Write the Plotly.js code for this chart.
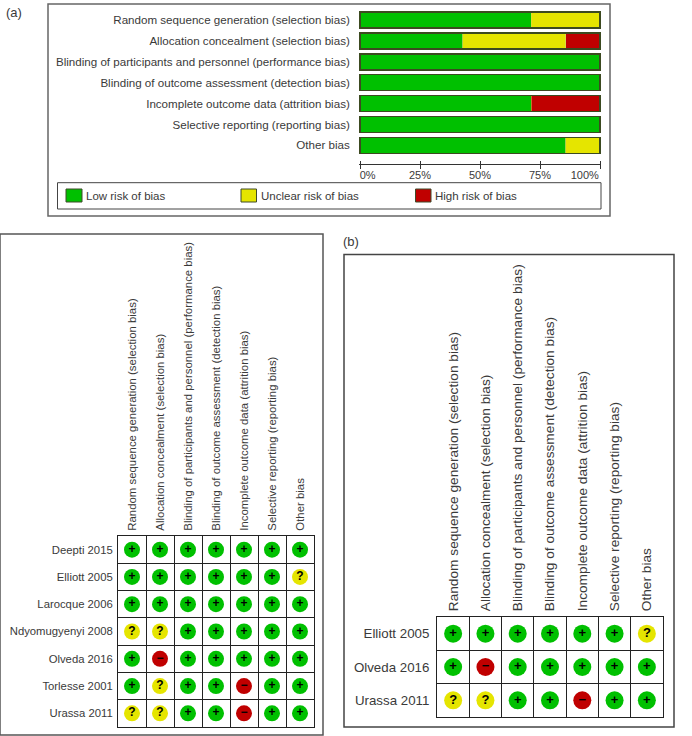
<!DOCTYPE html>
<html><head><meta charset="utf-8">
<script src="https://cdn.plot.ly/plotly-3.0.1.min.js"></script>
<style>html,body{margin:0;padding:0;background:#fff}</style></head>
<body><div id="chart" style="width:692px;height:736px"></div>
<script>
const domains = [
  "Random sequence generation (selection bias)",
  "Allocation concealment (selection bias)",
  "Blinding of participants and personnel (performance bias)",
  "Blinding of outcome assessment (detection bias)",
  "Incomplete outcome data (attrition bias)",
  "Selective reporting (reporting bias)",
  "Other bias"
];
const lowRisk     = [71.4, 42.9, 100, 100, 71.4, 100, 85.7];
const unclearRisk = [28.6, 42.9, 0, 0, 0, 0, 14.3];
const highRisk    = [0, 14.2, 0, 0, 28.6, 0, 0];
const percentTicks = [0, 25, 50, 75, 100];
const percentLabels = ["\u00a0\u00a0\u00a0\u00a0\u00a00%", "25%", "50%", "75%", "100%\u00a0\u00a0\u00a0\u00a0\u00a0\u00a0\u00a0\u00a0\u00a0\u00a0"];

const studiesAll = ["Deepti 2015","Elliott 2005","Larocque 2006","Ndyomugyenyi 2008","Olveda 2016","Torlesse 2001","Urassa 2011"];
const judgementsAll = [
  ["+","+","+","+","+","+","+"],
  ["+","+","+","+","+","+","?"],
  ["+","+","+","+","+","+","+"],
  ["?","?","+","+","+","+","+"],
  ["+","-","+","+","+","+","+"],
  ["+","?","+","+","-","+","+"],
  ["?","?","+","+","-","+","+"]
];
const studiesSub = ["Elliott 2005","Olveda 2016","Urassa 2011"];
const judgementsSub = [
  ["+","+","+","+","+","+","?"],
  ["+","-","+","+","+","+","+"],
  ["?","?","+","+","-","+","+"]
];

const GREEN="#00c000", YELLOW="#e5e500", RED="#c00000", INK="#3a3a3a";
const FONT="Liberation Sans, Arial, sans-serif";
const W=692,H=736;
const px=x=>x/W, py=y=>1-y/H;
const dy=(t,b)=>[py(b),py(t)], dx=(l,r)=>[px(l),px(r)];

const traces=[];
[[lowRisk,GREEN,"Low risk of bias"],[unclearRisk,YELLOW,"Unclear risk of bias"],[highRisk,RED,"High risk of bias"]].forEach(([v,c,n])=>{
  traces.push({type:"bar",orientation:"h",x:v,y:domains,name:n,xaxis:"x",yaxis:"y",
    marker:{color:c,line:{color:"#d8d860",width:0.5}},showlegend:false,hoverinfo:"x+y"});
});
// outline round each whole stacked bar, on an overlaid copy of the percent axis
traces.push({type:"bar",orientation:"h",x:lowRisk.map((v,i)=>v+unclearRisk[i]+highRisk[i]),y:domains,xaxis:"x4",yaxis:"y",
  marker:{color:"rgba(0,0,0,0)",line:{color:"#3c4a20",width:1.5}},showlegend:false,hoverinfo:"skip"});
const looks={"+":[GREEN,"+"],"?":[YELLOW,"?"],"-":[RED,"\u2212"]};
function matrix(studies,judgements,xa,ya,size,fs){
  Object.keys(looks).forEach(k=>{
    const xs=[],ys=[];
    studies.forEach((s,i)=>judgements[i].forEach((j,c)=>{if(j===k){xs.push(domains[c]);ys.push(s);}}));
    traces.push({type:"scatter",mode:"markers+text",x:xs,y:ys,xaxis:xa,yaxis:ya,showlegend:false,
      marker:{size:size,color:looks[k][0]},text:xs.map(()=>looks[k][1]),textposition:"middle center",
      textfont:{family:FONT,size:fs,color:"#000",weight:"bold"},cliponaxis:false,hoverinfo:"x+y"});
  });
}
matrix(studiesAll,judgementsAll,"x2","y2",16,12);
matrix(studiesSub,judgementsSub,"x3","y3",18,13);

function catX(domain,fs,standoff){return {domain,side:"top",type:"category",categoryorder:"array",categoryarray:domains,
  tickson:"boundaries",ticks:"",showgrid:true,gridcolor:"#222",gridwidth:1,showline:true,linecolor:"#222",linewidth:1,mirror:true,
  tickangle:-90,tickfont:{family:FONT,size:fs,color:INK},range:[-0.5,6.5],fixedrange:true,automargin:false,ticklabelstandoff:standoff};}
function catY(domain,cats,fs,standoff){return {domain,type:"category",categoryorder:"array",categoryarray:cats,
  tickson:"boundaries",ticks:"",showgrid:true,gridcolor:"#222",gridwidth:1,showline:true,linecolor:"#222",linewidth:1,mirror:true,
  tickfont:{family:FONT,size:fs,color:INK},range:[cats.length-0.5,-0.5],fixedrange:true,automargin:false,ticklabelstandoff:standoff};}

const x2=catX(dx(118,314),11.4,2); x2.anchor="y2";
const x3=catX(dx(437,663),13.7,2); x3.anchor="y3";
const y2=catY(dy(536,727),studiesAll,11.3,2); y2.anchor="x2";
const y3=catY(dy(617,717),studiesSub,13.3,4); y3.anchor="x3";

const frame=(l,t,r,b,c,w)=>({type:"rect",xref:"paper",yref:"paper",x0:px(l),x1:px(r),y0:py(b),y1:py(t),line:{color:c,width:w},fillcolor:"rgba(0,0,0,0)",layer:"below"});
const swatch=(l,t,r,b,c)=>({type:"rect",xref:"paper",yref:"paper",x0:px(l),x1:px(r),y0:py(b),y1:py(t),line:{color:"#3f4a2a",width:1},fillcolor:c});
const note=(x,y,text,size)=>({xref:"paper",yref:"paper",x:px(x),y:py(y),text,showarrow:false,xanchor:"left",yanchor:"middle",font:{family:FONT,size,color:INK}});

const axisPos=py(164);
const layout={
  width:W,height:H,margin:{l:0,r:0,t:0,b:0},paper_bgcolor:"#fff",plot_bgcolor:"rgba(0,0,0,0)",
  barmode:"stack",bargap:0.234,showlegend:false,hovermode:"closest",
  xaxis:{domain:dx(358.8,601.2),range:[-0.5,100.5],anchor:"free",position:axisPos,tickmode:"array",tickvals:percentTicks,ticktext:percentLabels,
    ticks:"outside",ticklen:4,tickcolor:"#333",showline:true,linecolor:"#333",linewidth:1,showgrid:false,zeroline:false,
    tickfont:{family:FONT,size:11,color:INK},fixedrange:true,automargin:false,ticklabelstandoff:-3},
  xaxis4:{range:[-0.5,100.5],anchor:"free",position:axisPos,overlaying:"x",side:"bottom",tickmode:"array",tickvals:percentTicks,
    ticks:"inside",ticklen:3,tickcolor:"#333",showline:false,showticklabels:false,showgrid:false,zeroline:false,fixedrange:true,automargin:false},
  yaxis:{domain:dy(9.6,155.8),anchor:"x",type:"category",categoryorder:"array",categoryarray:domains,range:[6.5,-0.5],
    showline:false,ticks:"",showgrid:false,zeroline:false,tickfont:{family:FONT,size:11.6,color:INK},fixedrange:true,automargin:false,ticklabelstandoff:8},
  xaxis2:x2,yaxis2:y2,xaxis3:x3,yaxis3:y3,
  shapes:[
    frame(48,4,610,216,"#666",1.5),
    frame(57.5,182.7,601,209,"#444",1),
    frame(0,234,323,735,"#555",1.5),
    frame(344,254.5,674,727,"#444",1.5),
    swatch(66,189,82,202,GREEN),
    swatch(241,189,256.5,202,YELLOW),
    swatch(415.5,189,431,202,RED)
  ],
  annotations:[
    note(4,12.7,"(a)",13),
    note(341,241,"(b)",13),
    note(84,195.5,"Low risk of bias",11.5),
    note(258.5,195.5,"Unclear risk of bias",11.5),
    note(432.5,195.5,"High risk of bias",11.5)
  ]
};
Plotly.newPlot("chart",traces,layout,{displayModeBar:false,staticPlot:true});
</script></body></html>
